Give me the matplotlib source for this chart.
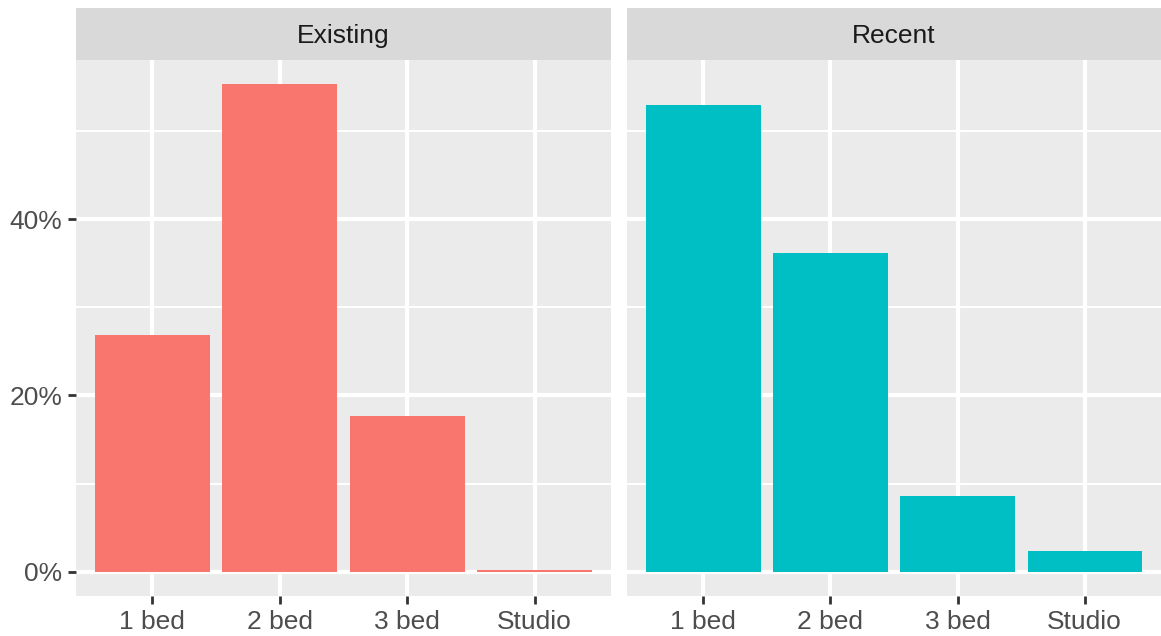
import numpy as np
import matplotlib.pyplot as plt
from matplotlib.ticker import FuncFormatter

categories = ['1 bed', '2 bed', '3 bed', 'Studio']
panels = ['Existing', 'Recent']
existing = [26.9, 55.3, 17.7, 0.2]
recent = [53.0, 36.2, 8.6, 2.3]
colors = ['#F8766D', '#00BFC4']

plt.rcParams['font.family'] = ['Liberation Sans', 'DejaVu Sans']

fig = plt.figure(figsize=(11.61, 6.36), dpi=100)
W, H = 1161.0, 636.0
panel_x = [(76, 611), (627, 1161)]
top, bottom = 60, 596
strip_top = 8

ymax = max(max(existing), max(recent))
ylim = (-0.05 * ymax, ymax * 1.05)
index = np.arange(len(categories))

for i, (name, vals) in enumerate(zip(panels, [existing, recent])):
    x0, x1 = panel_x[i]
    ax = fig.add_axes([x0 / W, 1 - bottom / H, (x1 - x0) / W, (bottom - top) / H])
    ax.set_facecolor('#EBEBEB')
    ax.set_axisbelow(True)
    ax.bar(index, vals, 0.9, color=colors[i], zorder=3)
    ax.set_xlim(-0.6, len(categories) - 0.4)
    ax.set_ylim(*ylim)
    ax.set_xticks(index)
    ax.set_xticklabels(categories)
    ax.set_yticks([0, 20, 40])
    ax.set_yticks([10, 30, 50], minor=True)
    ax.yaxis.set_major_formatter(FuncFormatter(lambda v, p: '%d%%' % v))
    ax.grid(which='major', color='white', linewidth=3.0, zorder=0)
    ax.grid(which='minor', axis='y', color='white', linewidth=1.5, zorder=0)
    for s in ax.spines.values():
        s.set_visible(False)
    ax.tick_params(axis='both', which='major', length=5.8, width=2.0, color='#333333',
                   labelcolor='#4D4D4D', labelsize=19, pad=4)
    ax.tick_params(axis='y', which='minor', length=0)
    if i > 0:
        ax.tick_params(axis='y', which='major', left=False, labelleft=False)

    # facet strip
    sax = fig.add_axes([x0 / W, 1 - top / H, (x1 - x0) / W, (top - strip_top) / H])
    sax.set_facecolor('#D9D9D9')
    sax.set_xticks([])
    sax.set_yticks([])
    for s in sax.spines.values():
        s.set_visible(False)
    sax.text(0.5, 0.47, name, ha='center', va='center', fontsize=19,
             color='#1A1A1A', transform=sax.transAxes)

plt.savefig('out.png', dpi=100)
